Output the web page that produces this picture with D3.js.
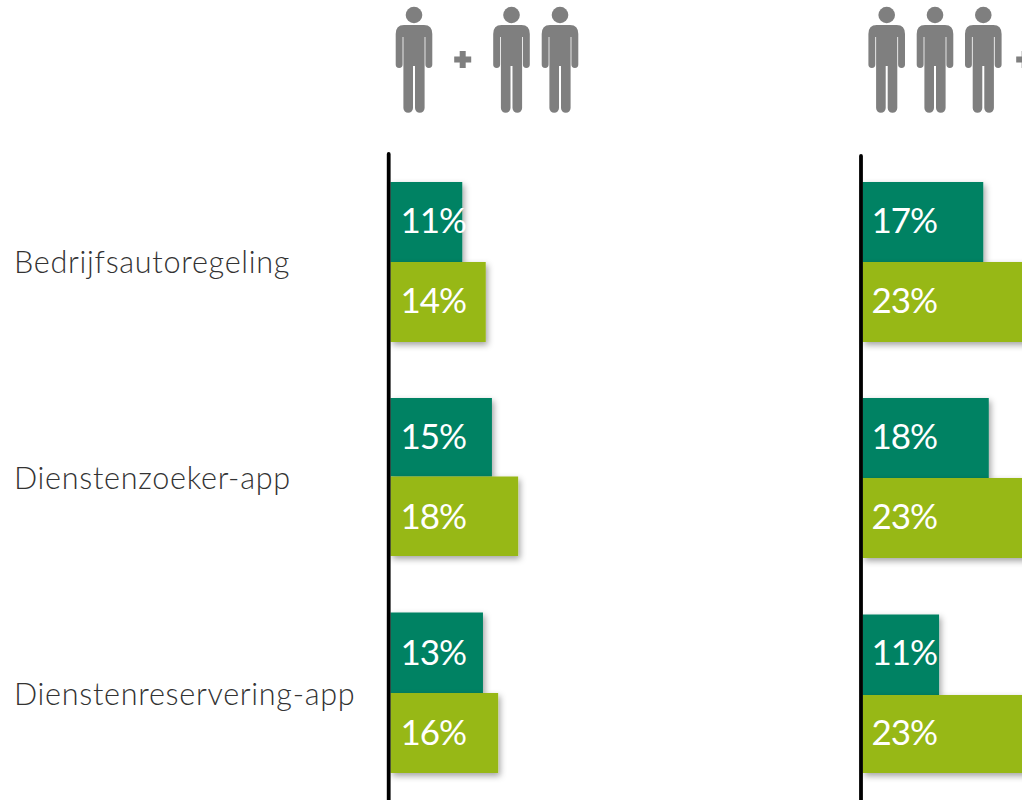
<!DOCTYPE html>
<html><head><meta charset="utf-8">
<script src="https://cdn.jsdelivr.net/npm/d3@7"></script>
<style>
html,body{margin:0;padding:0;background:#fff;overflow:hidden}
svg{display:block}
</style></head><body>
<div id="chart"></div>
<script>
const categories = ["Bedrijfsautoregeling","Dienstenzoeker-app","Dienstenreservering-app"];
// Bar lengths, in percentage points
const leftDark   = [10.4, 14.7, 13.4];
const leftLight  = [13.8, 18.5, 15.6];
const rightDark  = [17.5, 18.3, 11.1];
const rightLight = [24, 24, 24];
// Printed labels
const leftDarkLabels   = ["11%","15%","13%"];
const leftLightLabels  = ["14%","18%","16%"];
const rightDarkLabels  = ["17%","18%","11%"];
const rightLightLabels = ["23%","23%","23%"];
const leftIcons  = ["person","plus","person","person"];
const rightIcons = ["person","person","person","plus"];

const W = 1022, H = 800;
const svg = d3.select("#chart").append("svg").attr("width",W).attr("height",H);
const defs = svg.append("defs");
const f = defs.append("filter").attr("id","sh").attr("x","-15%").attr("y","-15%").attr("width","135%").attr("height","140%");
f.append("feDropShadow").attr("dx",2).attr("dy",3).attr("stdDeviation",3).attr("flood-color","#000").attr("flood-opacity",0.36);
const b = defs.append("filter").attr("id","soft");
b.append("feGaussianBlur").attr("stdDeviation",0.5);

const personPath = "M-10,25H10Q18.3,25 18.3,34V64.5A3.3,3.3 0 0 1 11.4,64.5V37H10.6V108A4.8,4.8 0 0 1 1,108V66H-1V108A4.8,4.8 0 0 1 -10.6,108V37H-11.4V64.5A3.3,3.3 0 0 1 -18.3,64.5V34Q-18.3,25 -10,25Z";
const plusPath = "M-3,-8.5H3V-3H8.5V3H3V8.5H-3V3H-8.5V-3H-3Z";

const panels = [
 {axisX:388.7, axisTop:154, x0:390.5, labelX:400.5, dark:leftDark, light:leftLight, darkL:leftDarkLabels, lightL:leftLightLabels,
  darkTop:[182,398,612.5], lightTop:[262,476.5,693], lightBottom:[342,556,773],
  icons:leftIcons, iconX:[414,462.7,511.5,560]},
 {axisX:861, axisTop:156, x0:862.5, labelX:871.5, dark:rightDark, light:rightLight, darkL:rightDarkLabels, lightL:rightLightLabels,
  darkTop:[182,398,614.5], lightTop:[262,478,695], lightBottom:[342,558,773],
  icons:rightIcons, iconX:[886.7,935,983.3,1024.7]}
];
const darkCol = "#008264", lightCol = "#97B813", grey = "#7F7F7F";
const darkBase = d3.scalePoint().domain(categories).range([233,665]);
const lightBase = d3.scalePoint().domain(categories).range([313,745]);

panels.forEach(p => {
  const g = svg.append("g");
  const x = d3.scaleLinear().domain([0,1]).range([p.x0,p.x0+6.9]);
  const yDark = d3.scaleOrdinal(categories,p.darkTop);
  const yLight = d3.scaleOrdinal(categories,p.lightTop);
  const yEnd = d3.scaleOrdinal(categories,p.lightBottom);
  const iconScale = d3.scaleOrdinal(d3.range(p.icons.length),p.iconX);

  const ic = g.append("g").attr("filter","url(#soft)").selectAll("path").data(p.icons).join("g")
     .attr("transform",(d,i)=>`translate(${iconScale(i)},${d==="plus"?59.5:0})`)
     .attr("fill",grey);
  ic.append("path").attr("d",d=>d==="plus"?plusPath:personPath);
  ic.filter(d=>d==="person").append("circle").attr("cy",15).attr("r",8.3);

  const rows = categories.map((c,i)=>({c,dark:p.dark[i],light:p.light[i],dl:p.darkL[i],ll:p.lightL[i]}));
  const bars = g.append("g").selectAll("g").data(rows).join("g");
  bars.append("rect").attr("x",p.x0).attr("y",d=>yDark(d.c)).attr("width",d=>x(d.dark)-p.x0)
     .attr("height",d=>yLight(d.c)-yDark(d.c)).attr("fill",darkCol).attr("filter","url(#sh)");
  bars.append("rect").attr("x",p.x0).attr("y",d=>yLight(d.c)).attr("width",d=>x(d.light)-p.x0)
     .attr("height",d=>yEnd(d.c)-yLight(d.c)).attr("fill",lightCol).attr("filter","url(#sh)");
  const addVal = (yS,key)=>bars.append("text").attr("x",p.labelX).attr("y",d=>yS(d.c)).text(d=>d[key])
     .attr("font-family","Lato, sans-serif").attr("font-size",35).attr("letter-spacing","-1.1px").attr("fill","#fff");
  addVal(darkBase,"dl");
  addVal(lightBase,"ll");

  g.append("line").attr("x1",p.axisX).attr("x2",p.axisX).attr("y1",p.axisTop).attr("y2",H)
     .attr("stroke","#000").attr("stroke-width",3.8).attr("stroke-linecap","round");
});

const yCat = d3.scalePoint().domain(categories).range([273,705]);
svg.append("g").selectAll("text").data(categories).join("text")
  .attr("x",14).attr("y",d=>yCat(d)).text(d=>d)
  .attr("font-family","Lato, sans-serif").attr("font-weight",300).attr("font-size",30.6)
  .attr("letter-spacing","0.7px").attr("fill","#333");
</script>
</body></html>
